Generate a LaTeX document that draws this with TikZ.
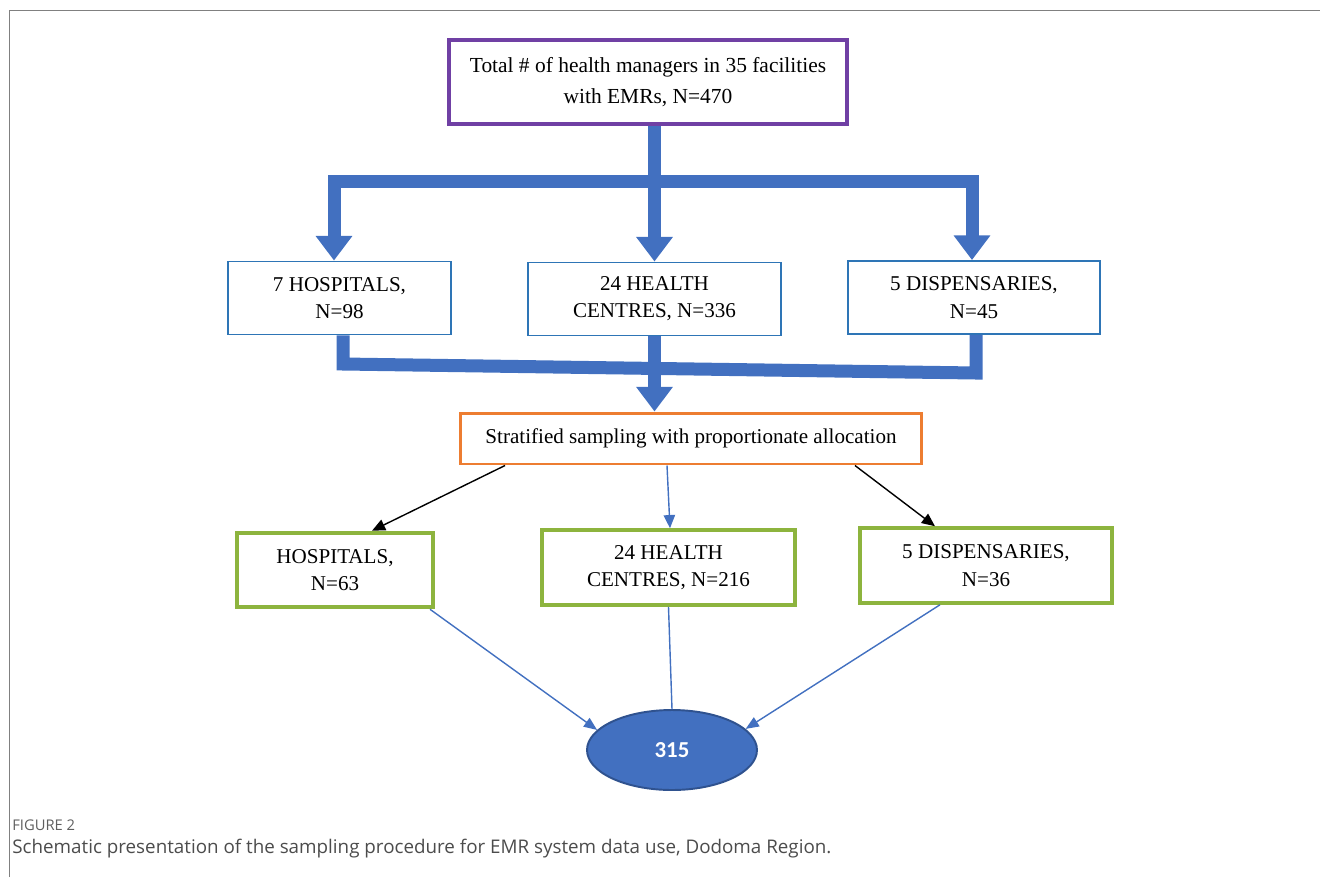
\documentclass[tikz,border=0pt]{standalone}
\usepackage{fontspec}
\setmainfont{Liberation Serif}
\newfontfamily\captionfont{Open Sans}
\newfontfamily\countfont{Carlito}
\usetikzlibrary{arrows.meta, shapes.geometric, positioning}
\definecolor{mgrpurple}{RGB}{112,64,164}
\definecolor{stratblue}{RGB}{46,117,182}
\definecolor{fatblue}{RGB}{66,112,192}
\definecolor{edgeblue}{RGB}{47,82,143}
\definecolor{allocorange}{RGB}{237,125,49}
\definecolor{samplegreen}{RGB}{141,180,62}
\definecolor{framegray}{RGB}{128,128,128}
\definecolor{capgray}{RGB}{95,95,95}
\tikzstyle{total}=[rectangle, draw=mgrpurple, line width=2.3pt, align=center, font=\fontsize{12.2}{17.5}\selectfont, minimum width=7.96cm, minimum height=1.68cm]
\tikzstyle{stratum}=[rectangle, draw=stratblue, line width=1.1pt, align=center, font=\fontsize{12}{15.5}\selectfont, minimum height=1.46cm]
\tikzstyle{alloc}=[rectangle, draw=allocorange, line width=1.7pt, font=\fontsize{12}{14}\selectfont, minimum width=9.24cm, minimum height=1.02cm]
\tikzstyle{sample}=[rectangle, draw=samplegreen, line width=2.3pt, align=center, font=\fontsize{12}{15.5}\selectfont, minimum height=1.49cm]
\tikzstyle{result}=[ellipse, draw=edgeblue, fill=fatblue, line width=1.1pt, text=white, font=\countfont\bfseries\fontsize{13}{15}\selectfont, minimum width=3.4cm, minimum height=1.6cm]
\tikzstyle{fat}=[fatblue, line width=7.4pt]
\tikzstyle{fatarrow}=[fat, -{Triangle[width=20pt,length=14pt]}]
\tikzstyle{thinarrow}=[line width=0.8pt, -{Triangle[width=6.5pt,length=7.5pt]}]
\tikzstyle{toresult}=[fatblue, line width=0.8pt, -{Triangle[width=6pt,length=7.5pt]}]

\begin{document}
\begin{tikzpicture}[x=0.02cm, y=-0.02cm]
    \useasboundingbox (0,0) rectangle (1320,877);
    \draw[framegray, line width=0.9pt] (9.5,877) -- (9.5,10.5) -- (1320,10.5);

    \node[total] (total) at (648,82) {Total \# of health managers in 35 facilities\\with EMRs, N=470};

    \node[stratum, minimum width=4.46cm] (h1) at (339.5,298) {7 HOSPITALS,\\N=98};
    \node[stratum, minimum width=5.06cm] (h2) at (654.5,299) {24 HEALTH\\CENTRES, N=336};
    \node[stratum, minimum width=5.04cm] (h3) at (974,297.5) {5 DISPENSARIES,\\N=45};

    \node[alloc] (alloc) at (691,438.5) {Stratified sampling with proportionate allocation};

    \node[sample, minimum width=3.92cm] (g1) at (335,570) {HOSPITALS,\\N=63};
    \node[sample, minimum width=5.06cm] (g2) at (668.5,567.5) {24 HEALTH\\CENTRES, N=216};
    \node[sample, minimum width=5.04cm] (g3) at (986,565.5) {5 DISPENSARIES,\\N=36};

    \node[result] (result) at (672,750) {315};

    % split into the three strata
    \coordinate (splitl) at (334,181);
    \coordinate (splitr) at (972,181);
    \draw[fat, line cap=rect] (splitl) -- (splitr);
    \draw[fatarrow] (splitl) -- (h1.north -| splitl);
    \draw[fatarrow] (total.south -| h2.north) -- (h2.north);
    \draw[fatarrow] (splitr) -- (h3.north -| splitr);

    % strata joined again
    \coordinate (joinl) at (343,364);
    \coordinate (joinr) at (976,373);
    \draw[fat] (h1.south -| joinl) -- (joinl) -- (joinr) -- (h3.south -| joinr);
    \draw[fatarrow] (h2.south) -- (alloc.north -| h2.south);

    \draw[thinarrow] ([xshift=-3.72cm]alloc.south) -- ([xshift=0.74cm]g1.north);
    \draw[thinarrow, fatblue] ([xshift=-0.48cm]alloc.south) -- ([xshift=0.03cm]g2.north);
    \draw[thinarrow] ([xshift=3.28cm]alloc.south) -- ([xshift=-1.02cm]g3.north);

    \draw[toresult] ([xshift=1.9cm]g1.south) -- (result.165);
    \draw[fatblue, line width=0.8pt] (g2.south) -- (result.north);
    \draw[toresult] ([xshift=-0.92cm]g3.south) -- (result.16);

    \node[anchor=west, inner sep=0pt, text=capgray, font=\captionfont\fontsize{8.4}{10}\selectfont] (figno) at (12,825) {FIGURE 2};
    \node[anchor=west, inner sep=0pt, text=capgray!80!black, font=\captionfont\fontsize{10.7}{13}\selectfont] (caption) at (12,849) {Schematic presentation of the sampling procedure for EMR system data use, Dodoma Region.};
\end{tikzpicture}
\end{document}
